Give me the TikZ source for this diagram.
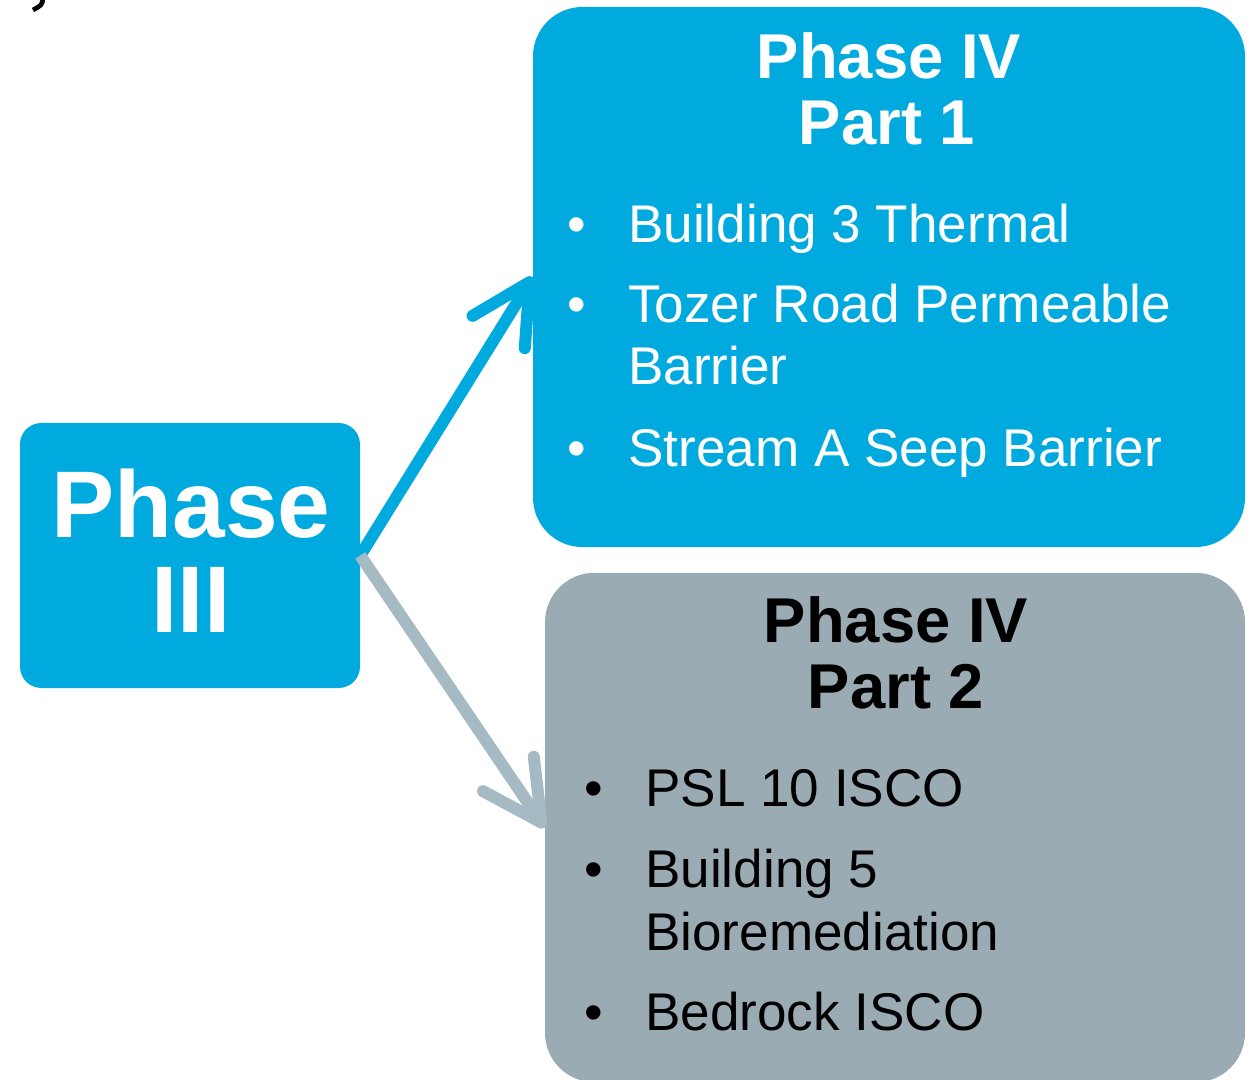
\documentclass[tikz,border=0pt]{standalone}
\usepackage{fontspec}
\setmainfont{Liberation Sans}
\usetikzlibrary{arrows.meta}

\definecolor{phaseblue}{HTML}{00AADE}
\definecolor{phasegrey}{HTML}{9BABB3}
\definecolor{arrowgrey}{HTML}{A5BAC2}

\tikzset{
  box/.style={rounded corners=37pt, inner sep=0pt},
  title/.style={font=\bfseries\fontsize{47.5}{56}\selectfont, anchor=base, inner sep=0pt},
  item/.style={font=\fontsize{39.8}{47}\selectfont, anchor=base west, inner sep=0pt},
  dot/.style={font=\fontsize{39.8}{47}\selectfont, anchor=base, inner sep=0pt},
  link/.style={line width=9pt, -{Straight Barb[length=44pt,width=46pt,round]}}
}

\begin{document}
\begin{tikzpicture}[x=0.75pt, y=-0.75pt]
    \useasboundingbox (0,0) rectangle (1253,1080);

    % boxes
    \node[box, rounded corners=16pt, fill=phaseblue, minimum width=255pt, minimum height=198.75pt] (p3) at (190,555.5) {};
    \node[box, fill=phaseblue, minimum width=534pt, minimum height=405pt] (p4a) at (889,277) {};
    \node[box, fill=phasegrey, minimum width=525pt, minimum height=382pt] (p4b) at (895,827.5) {};

    % arrows
    \draw[link, phaseblue] (p3.east) -- (p4a.west);
    \draw[link, arrowgrey] (p3.east) -- (p4b.west);

    % left box
    \node[font=\bfseries\fontsize{71}{80}\selectfont, text=white, anchor=base, inner sep=0pt] (p3a) at (191,537) {Phase};
    \node[font=\bfseries\fontsize{71}{80}\selectfont, text=white, anchor=base, inner sep=0pt] (p3b) at (191,632) {III};

    % part 1
    \node[title, text=white] (t1a) at (889,79) {Phase IV};
    \node[title, text=white] (t1b) at (887,145) {Part 1};
    \foreach \y/\t in {243/Building 3 Thermal, 323/Tozer Road Permeable, 385/Barrier, 466/Stream A Seep Barrier}
        \node[item, text=white] at (628,\y) {\t};
    \foreach \y in {243,323,466}
        \node[dot, text=white] at (577,\y) {•};

    % part 2
    \node[title] (t2a) at (896,642) {Phase IV};
    \node[title] (t2b) at (896,708) {Part 2};
    \foreach \y/\t in {806/PSL 10 ISCO, 887/Building 5, 950/Bioremediation, 1030/Bedrock ISCO}
        \node[item] at (645,\y) {\t};
    \foreach \y in {806,887,1030}
        \node[dot] at (594,\y) {•};

    % cut-off glyph in the corner
    \draw[line width=3.5pt] (43,-2) .. controls (42,5) .. (33,10);
\end{tikzpicture}
\end{document}
